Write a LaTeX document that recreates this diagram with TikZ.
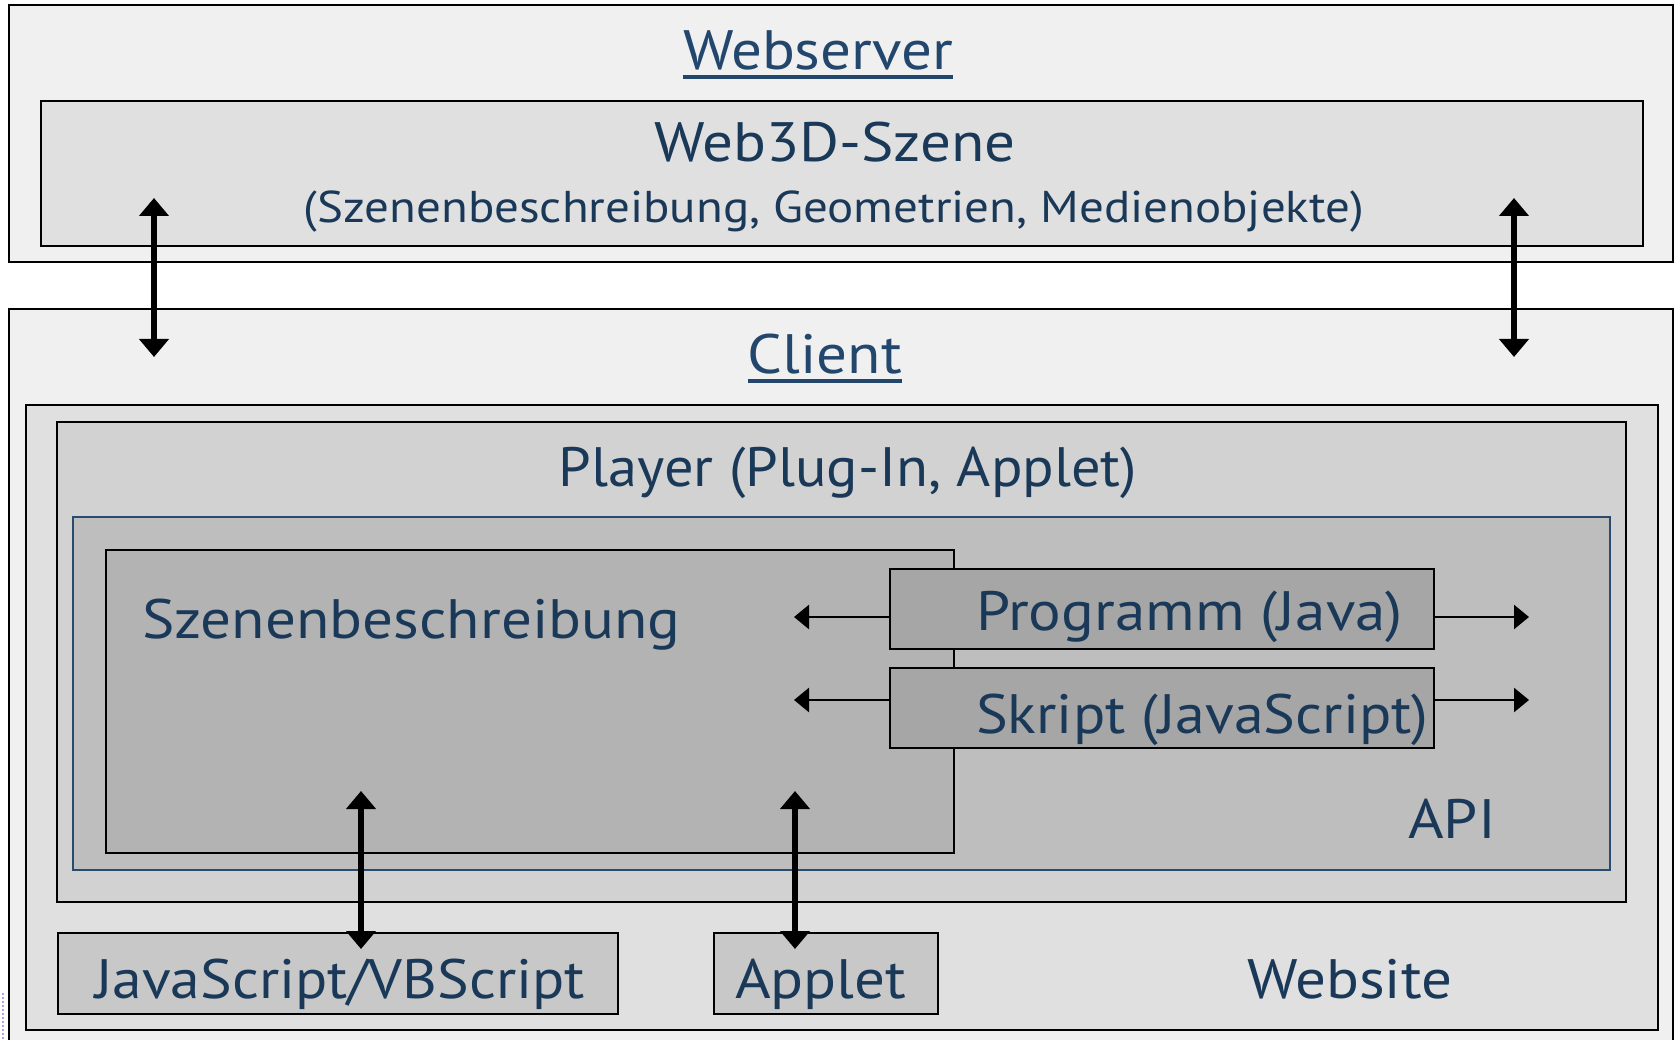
\documentclass[tikz,border=0pt]{standalone}
\usepackage{graphicx}
\usepackage{fontspec}
\setmainfont[FakeStretch=1.1]{PT Sans}
\usetikzlibrary{arrows.meta}
\definecolor{txt}{HTML}{1A3858}
\definecolor{ttl}{HTML}{23466D}
\definecolor{apiline}{HTML}{2A4A6E}
\definecolor{fA}{HTML}{F0F0F0}
\definecolor{fB}{HTML}{E0E0E0}
\definecolor{fC}{HTML}{D2D2D2}
\definecolor{fD}{HTML}{BEBEBE}
\definecolor{fE}{HTML}{B3B3B3}
\definecolor{fF}{HTML}{A6A6A6}
\definecolor{fG}{HTML}{C8C8C8}
\begin{document}
\begin{tikzpicture}[x=1pt,y=-1pt,
  frame/.style={draw=black,line width=2.8pt,inner sep=0pt,outer sep=0pt,anchor=north west},
  big/.style={font=\fontsize{55.5}{60}\selectfont,text=txt,inner sep=0pt},
  small/.style={font=\fontsize{44.5}{50}\selectfont,text=txt,inner sep=0pt},
  title/.style={big,text=ttl},
  dbl/.style={line width=5.6pt,{Triangle[width=29pt,length=18pt]}-{Triangle[width=29pt,length=18pt]}},
  api/.style={line width=2.6pt,-{Triangle[width=24pt,length=15pt]}}]
\useasboundingbox (0,0) rectangle (1675,1040);
\fill[white] (0,0) rectangle (1675,1040);

% server side
\node[frame,fill=fA,minimum width=1664pt,minimum height=257pt] (server) at (9,5) {};
\node[frame,fill=fB,minimum width=1602pt,minimum height=145pt] (scene) at (41,101) {};
\node[title,anchor=base] (wstitle) at (818,70) {Webserver};
\draw[ttl,line width=3.2pt] ([yshift=-7pt]wstitle.base west) -- ([yshift=-7pt]wstitle.base east);
\node[big,anchor=base] (scenetitle) at (835,162) {Web3D-Szene};
\node[small,anchor=base] (scenesub) at (834,223) {(Szenenbeschreibung, Geometrien, Medienobjekte)};

% client side
\node[frame,fill=fA,minimum width=1664pt,minimum height=760pt] (client) at (9,309) {};
\node[title,anchor=base] (cltitle) at (825,373) {Client};
\draw[ttl,line width=3.2pt] ([yshift=-8pt]cltitle.base west) -- ([yshift=-8pt]cltitle.base east);
\node[frame,fill=fB,minimum width=1632pt,minimum height=625pt] (website) at (26,405) {};
\node[frame,fill=fC,minimum width=1569pt,minimum height=480pt] (player) at (57,422) {};
\node[big,anchor=base] (playertitle) at (848,486) {\scalebox{0.957}[1]{Player (Plug-In, Applet)}};
\node[frame,draw=apiline,line width=2.2pt,fill=fD,minimum width=1537pt,minimum height=353pt] (apibox) at (73,517) {};
\node[frame,fill=fE,minimum width=848pt,minimum height=303pt] (szene) at (106,550) {};
\node[big,anchor=base west] (szenetext) at (142,638) {Szenenbeschreibung};
\node[frame,fill=fF,minimum width=544pt,minimum height=80pt] (prog) at (890,569) {};
\node[big,anchor=base west] (progtext) at (976,630) {Programm (Java)};
\node[frame,fill=fF,minimum width=544pt,minimum height=80pt] (skript) at (890,668) {};
\node[big,anchor=base west] (skripttext) at (976,733) {\scalebox{0.98}[1]{Skript (JavaScript)}};
\node[big,anchor=base west] (apitext) at (1408,838) {API};
\node[frame,fill=fG,minimum width=560pt,minimum height=81pt] (jsvb) at (58,933) {};
\node[big,anchor=base west] (jsvbtext) at (95,998) {\scalebox{0.977}[1]{JavaScript/VBScript}};
\node[frame,fill=fG,minimum width=224pt,minimum height=81pt] (applet) at (714,933) {};
\node[big,anchor=base west] (applettext) at (735,998) {Applet};
\node[big,anchor=base west] (websitetext) at (1247,998) {Website};

% arrow end points
\coordinate (sL) at (154,198);
\coordinate (cL) at (154,357);
\coordinate (sR) at (1514,198);
\coordinate (cR) at (1514,357);
\coordinate (pIn) at (794,617);
\coordinate (pOut) at (1529,617);
\coordinate (kIn) at (794,700);
\coordinate (kOut) at (1529,700);
\coordinate (zJ) at (361,791);
\coordinate (zA) at (795,791);
\coordinate (jTop) at (361,949);
\coordinate (aTop) at (795,949);

\draw[dbl] (sL) -- (cL);
\draw[dbl] (sR) -- (cR);
\draw[api] (prog.west |- pIn) -- (pIn);
\draw[api] (prog.east |- pOut) -- (pOut);
\draw[api] (skript.west |- kIn) -- (kIn);
\draw[api] (skript.east |- kOut) -- (kOut);
\draw[dbl] (zJ) -- (jTop);
\draw[dbl] (zA) -- (aTop);

% dotted mark at the left edge
\draw[draw=black!25!blue!35!white,line width=2pt,dotted] (3,993) -- (3,1040);
\end{tikzpicture}
\end{document}
